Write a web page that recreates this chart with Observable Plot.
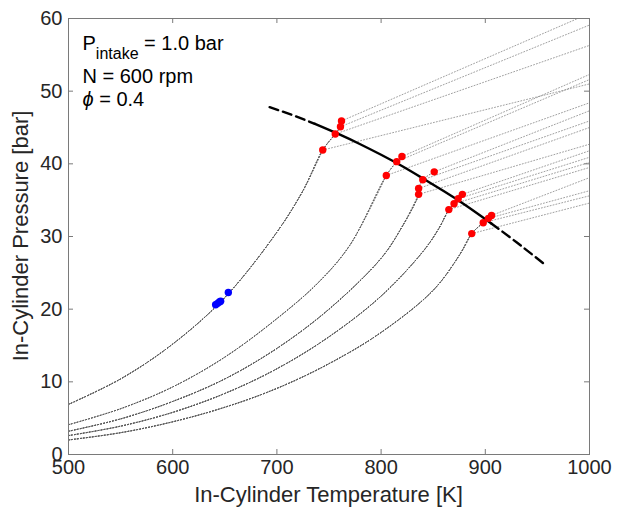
<!DOCTYPE html>
<html><head><meta charset="utf-8">
<script src="https://cdn.jsdelivr.net/npm/d3@7"></script>
<script src="https://cdn.jsdelivr.net/npm/@observablehq/plot@0.6"></script>
<style>body{margin:0;background:#fff;} #chart{position:absolute;left:0;top:0;}</style>
</head><body><div id="chart"></div>
<script>
// ---- data ----
const xTicks = [500, 600, 700, 800, 900, 1000];
const yTicks = [0, 10, 20, 30, 40, 50, 60];

// compression traces (bundles), temperature [K] and pressure [bar]
const bundleA_T = [500, 550, 600, 650, 700, 725];
const bundleA_P = [6.9, 10.4, 15.2, 21.6, 30.6, 36.3];
const bundleB_T = [500, 550, 600, 650, 700, 740, 770];
const bundleB_P = [4.1, 6.3, 9.3, 13.4, 18.7, 23.7, 28.8];
const bundleC_T = [500, 550, 600, 650, 700, 750, 800, 820];
const bundleC_P = [3.2, 4.9, 7.3, 10.4, 14.6, 20.0, 27.0, 31.3];
const bundleD_T = [500, 550, 600, 650, 700, 750, 800, 840, 855];
const bundleD_P = [2.6, 3.9, 5.8, 8.4, 11.8, 16.2, 21.8, 27.9, 31.0];
const bundleE_T = [500, 550, 600, 650, 700, 750, 800, 850, 875];
const bundleE_P = [2.0, 3.0, 4.5, 6.5, 9.1, 12.5, 16.8, 22.6, 27.4];

// ignition points (red) and the bundle each cycle belongs to
const redBundle = ["A","A","A","A", "B","B","B", "C","C","C","C", "D","D","D","D", "E","E","E","E"];
const redT = [744, 756, 761, 762, 805, 815, 820, 836, 836, 840, 851, 865, 870, 874, 878, 887, 898, 903, 906];
const redP = [41.9, 44.1, 45.1, 45.9, 38.4, 40.3, 41.0, 35.8, 36.6, 37.8, 38.9, 33.7, 34.5, 35.2, 35.8, 30.4, 31.9, 32.5, 32.9];
// pressure of each trace after ignition where it reaches 1000 K
const traceEndT = 1000;
const redEndP = [51.0, 56.3, 59.1, 60.7, 48.4, 51.6, 52.3, 42.7, 45.0, 45.9, 47.3, 39.5, 40.2, 40.9, 41.8, 34.6, 35.6, 36.3, 38.1];

// blue points
const blueT = [641.2, 643.1, 644.8, 646.0, 653.4];
const blueP = [20.6, 20.8, 21.0, 21.1, 22.3];

// ignition boundary: fitted (solid) and extrapolated (dashed)
const fitT = [736.5, 760, 780, 800, 820, 840, 860, 880, 905.8];
const fitP = [45.5, 44.05, 42.7, 41.25, 39.7, 38.0, 36.25, 34.4, 31.8];
const extLowT = [693, 715, 736.5];
const extLowP = [47.8, 46.7, 45.5];
const extHighT = [905.8, 930, 955.8];
const extHighP = [31.8, 29.2, 26.3];

// ---- build tables ----
const bundles = {
  A: {T: bundleA_T, P: bundleA_P}, B: {T: bundleB_T, P: bundleB_P},
  C: {T: bundleC_T, P: bundleC_P}, D: {T: bundleD_T, P: bundleD_P},
  E: {T: bundleE_T, P: bundleE_P}
};
const compression = [];
const post = [];
redT.forEach((t, i) => {
  const b = bundles[redBundle[i]];
  b.T.forEach((bt, k) => compression.push({cycle: i, T: bt, P: b.P[k]}));
  for (let j = 0; j <= i; j++) {
    if (redBundle[j] === redBundle[i]) compression.push({cycle: i, T: redT[j], P: redP[j]});
  }
  post.push({cycle: i, T: t, P: redP[i]});
  post.push({cycle: i, T: traceEndT, P: redEndP[i]});
});
const reds = redT.map((t, i) => ({T: t, P: redP[i]}));
const blues = blueT.map((t, i) => ({T: t, P: blueP[i]}));
const fit = fitT.map((t, i) => ({T: t, P: fitP[i]}));
const extLow = extLowT.map((t, i) => ({T: t, P: extLowP[i]}));
const extHigh = extHighT.map((t, i) => ({T: t, P: extHighP[i]}));

// ---- chart ----
const W = 626, H = 513, mL = 68, mR = 37, mT = 18, mB = 59;
const fw = W - mL - mR, fh = H - mT - mB;
const axisColor = "#7a7a7a";
const textColor = "#262626";

const chart = Plot.plot({
  width: W, height: H,
  marginLeft: mL, marginRight: mR, marginTop: mT, marginBottom: mB,
  style: {fontFamily: "'Liberation Sans', Arial, Helvetica, sans-serif", fontSize: "20px", color: textColor, background: "#fff"},
  x: {domain: [500, 1000]},
  y: {domain: [0, 60]},
  marks: [
    Plot.line(compression, {x: "T", y: "P", z: "cycle", curve: "catmull-rom", stroke: "#555", strokeWidth: 0.8, strokeDasharray: "1,2", clip: true}),
    Plot.line(post, {x: "T", y: "P", z: "cycle", stroke: "#888", strokeWidth: 0.8, strokeDasharray: "1,2", clip: true}),
    Plot.line(extLow, {x: "T", y: "P", curve: "natural", stroke: "#000", strokeWidth: 2.4, strokeDasharray: "9,5"}),
    Plot.line(extHigh, {x: "T", y: "P", curve: "natural", stroke: "#000", strokeWidth: 2.4, strokeDasharray: "9,5"}),
    Plot.line(fit, {x: "T", y: "P", curve: "natural", stroke: "#000", strokeWidth: 2.4}),
    Plot.dot(blues, {x: "T", y: "P", r: 3.7, fill: "#0000ff", stroke: "none"}),
    Plot.dot(reds, {x: "T", y: "P", r: 3.7, fill: "#ff0000", stroke: "none"}),
    Plot.frame({stroke: axisColor, strokeWidth: 1}),
    Plot.ruleX(xTicks, {x: d => d, insetTop: fh - 5, stroke: axisColor}),
    Plot.ruleX(xTicks, {x: d => d, insetBottom: fh - 5, stroke: axisColor}),
    Plot.ruleY(yTicks, {y: d => d, insetRight: fw - 5, stroke: axisColor}),
    Plot.ruleY(yTicks, {y: d => d, insetLeft: fw - 5, stroke: axisColor}),
    Plot.axisX({ticks: xTicks, tickSize: 0, tickPadding: 5, tickFormat: d => String(d), label: null, fontSize: 20, fill: textColor}),
    Plot.axisY({ticks: yTicks, tickSize: 0, tickPadding: 6, tickFormat: d => String(d), label: null, fontSize: 20, fill: textColor})
  ]
});

const svg = d3.select(chart);
const ff = "'Liberation Sans', Arial, Helvetica, sans-serif";
svg.append("text").attr("x", mL + fw / 2).attr("y", 502).attr("text-anchor", "middle")
  .attr("font-family", ff).attr("font-size", 22).attr("fill", textColor).text("In-Cylinder Temperature [K]");
svg.append("text").attr("transform", `translate(28,${mT + fh / 2}) rotate(-90)`).attr("text-anchor", "middle")
  .attr("font-family", ff).attr("font-size", 22).attr("fill", textColor).text("In-Cylinder Pressure [bar]");

const ann = svg.append("g").attr("font-family", ff).attr("fill", "#000").attr("text-anchor", "start");
const t1 = ann.append("text").attr("x", 82.5).attr("y", 50).attr("font-size", 20).attr("text-anchor", "start");
t1.append("tspan").text("P");
t1.append("tspan").attr("font-size", 16).attr("dy", 9).text("intake");
t1.append("tspan").attr("dy", -9).text(" = 1.0 bar");
ann.append("text").attr("x", 82.5).attr("y", 83).attr("font-size", 20).attr("text-anchor", "start").text("N = 600 rpm");
const t3 = ann.append("text").attr("x", 82.5).attr("y", 106).attr("font-size", 20).attr("text-anchor", "start");
t3.append("tspan").attr("font-style", "italic").text("ϕ");
t3.append("tspan").text(" = 0.4");

document.getElementById("chart").appendChild(chart);
</script>
</body></html>
